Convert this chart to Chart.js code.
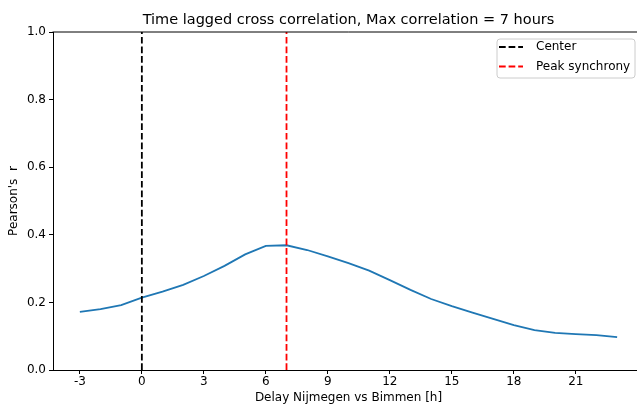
<!DOCTYPE html>
<html>
<head>
<meta charset="utf-8">
<script src="https://cdn.jsdelivr.net/npm/chart.js@4/dist/chart.umd.min.js"></script>
<style>
  html, body { margin: 0; padding: 0; background: #fff; }
  #wrap { width: 637px; height: 406px; overflow: hidden; position: relative; }
  canvas { display: block; }
</style>
</head>
<body>
<div id="wrap"><canvas id="c" width="697" height="406"></canvas></div>
<script>
// ---- data ----
const lags = [-3, -2, -1, 0, 1, 2, 3, 4, 5, 6, 7, 8, 9, 10, 11, 12, 13, 14, 15, 16, 17, 18, 19, 20, 21, 22, 23];
const pearsonR = [0.172, 0.180, 0.192, 0.214, 0.232, 0.252, 0.278, 0.308, 0.342, 0.367, 0.369, 0.355, 0.336, 0.316, 0.294, 0.266, 0.237, 0.210, 0.189, 0.170, 0.151, 0.133, 0.118, 0.110, 0.106, 0.103, 0.097];
const centerLag = 0;
const peakLag = 7;
const xTickValues = [-3, 0, 3, 6, 9, 12, 15, 18, 21];
const yTickValues = [0.0, 0.2, 0.4, 0.6, 0.8, 1.0];
const titleText = 'Time lagged cross correlation, Max correlation = 7 hours';
const xLabel = 'Delay Nijmegen vs Bimmen [h]';
const yLabel = "Pearson's  r";

const FONT = 'DejaVu Sans';

const topSpine = {
  id: 'topSpine',
  afterDatasetsDraw(chart) {
    const {ctx, chartArea} = chart;
    ctx.save();
    ctx.strokeStyle = '#000';
    ctx.lineWidth = 1;
    ctx.beginPath();
    ctx.moveTo(chartArea.left - 0.5, chartArea.top);
    ctx.lineTo(chartArea.right, chartArea.top);
    ctx.stroke();
    ctx.restore();
  }
};

const boxLegend = {
  id: 'boxLegend',
  afterDraw(chart) {
    const {ctx, chartArea} = chart;
    const items = chart.data.datasets.filter(d => d.inLegend);
    const w = 138, rowH = 19.5, h = 39;
    const x0 = chartArea.right - 9 - w;
    const y0 = chartArea.top + 7;
    ctx.save();
    ctx.fillStyle = 'rgba(255,255,255,0.8)';
    ctx.strokeStyle = '#cccccc';
    ctx.lineWidth = 1;
    const r = 3;
    ctx.beginPath();
    ctx.moveTo(x0 + r, y0);
    ctx.lineTo(x0 + w - r, y0);
    ctx.arcTo(x0 + w, y0, x0 + w, y0 + r, r);
    ctx.lineTo(x0 + w, y0 + h - r);
    ctx.arcTo(x0 + w, y0 + h, x0 + w - r, y0 + h, r);
    ctx.lineTo(x0 + r, y0 + h);
    ctx.arcTo(x0, y0 + h, x0, y0 + h - r, r);
    ctx.lineTo(x0, y0 + r);
    ctx.arcTo(x0, y0, x0 + r, y0, r);
    ctx.closePath();
    ctx.fill();
    ctx.stroke();
    ctx.font = '12px "' + FONT + '"';
    ctx.textBaseline = 'middle';
    ctx.textAlign = 'left';
    items.forEach((d, i) => {
      const cy = y0 + 8 + i * rowH;
      ctx.strokeStyle = d.borderColor;
      ctx.lineWidth = d.borderWidth;
      ctx.setLineDash(d.borderDash);
      ctx.beginPath();
      ctx.moveTo(x0 + 2, cy);
      ctx.lineTo(x0 + 26, cy);
      ctx.stroke();
      ctx.setLineDash([]);
      ctx.fillStyle = '#000';
      ctx.fillText(d.label, x0 + 39, cy);
    });
    ctx.restore();
  }
};

const axisCommon = {
  grid: { display: true, drawOnChartArea: false, drawTicks: true, tickLength: 4, color: '#000', lineWidth: 1 },
  border: { display: true, color: '#000', width: 1 },
};

new Chart(document.getElementById('c'), {
  type: 'line',
  data: {
    datasets: [
      {
        label: 'r',
        data: lags.map((l, i) => ({ x: l, y: pearsonR[i] })),
        borderColor: '#1f77b4',
        borderWidth: 1.8,
        pointRadius: 0,
        tension: 0,
        fill: false,
        order: 2
      },
      {
        label: 'Center',
        inLegend: true,
        data: [{ x: centerLag, y: 0 }, { x: centerLag, y: 1 }],
        borderColor: '#000000',
        borderWidth: 1.8,
        borderDash: [6.7, 2.9],
        pointRadius: 0,
        fill: false,
        order: 1
      },
      {
        label: 'Peak synchrony',
        inLegend: true,
        data: [{ x: peakLag, y: 0 }, { x: peakLag, y: 1 }],
        borderColor: '#ff0000',
        borderWidth: 1.8,
        borderDash: [6.7, 2.9],
        pointRadius: 0,
        fill: false,
        order: 0
      }
    ]
  },
  options: {
    responsive: false,
    animation: false,
    devicePixelRatio: 1,
    layout: { padding: { left: 0, right: 53, top: 0, bottom: 0 } },
    plugins: {
      legend: { display: false },
      tooltip: { enabled: false },
      title: {
        display: true,
        fullSize: false,
        text: titleText,
        color: '#000',
        font: { family: FONT, size: 14.5, weight: 'normal', lineHeight: 1.2 },
        padding: { top: 11.5, bottom: 3.1 }
      }
    },
    scales: {
      x: {
        type: 'linear',
        min: -4.3,
        max: 24.3,
        ...axisCommon,
        afterBuildTicks(scale) { scale.ticks = xTickValues.map(v => ({ value: v })); },
        afterFit(scale) { scale.height = 36; },
        ticks: {
          color: '#000',
          font: { family: FONT, size: 12 },
          padding: 1,
          maxRotation: 0,
          autoSkip: false,
          callback: v => String(v)
        },
        title: {
          display: true,
          text: xLabel,
          color: '#000',
          font: { family: FONT, size: 12, lineHeight: 1.2 },
          padding: { top: 0, bottom: 1 }
        }
      },
      y: {
        type: 'linear',
        min: 0,
        max: 1,
        ...axisCommon,
        afterBuildTicks(scale) { scale.ticks = yTickValues.map(v => ({ value: v })); },
        afterFit(scale) { scale.width = 53; },
        ticks: {
          color: '#000',
          font: { family: FONT, size: 12 },
          padding: 3,
          autoSkip: false,
          callback: v => Number(v).toFixed(1)
        },
        title: {
          display: true,
          text: yLabel,
          color: '#000',
          font: { family: FONT, size: 12, lineHeight: 1.2 },
          padding: { top: 6.8, bottom: 0 }
        }
      }
    }
  },
  plugins: [topSpine, boxLegend]
});
</script>
</body>
</html>
